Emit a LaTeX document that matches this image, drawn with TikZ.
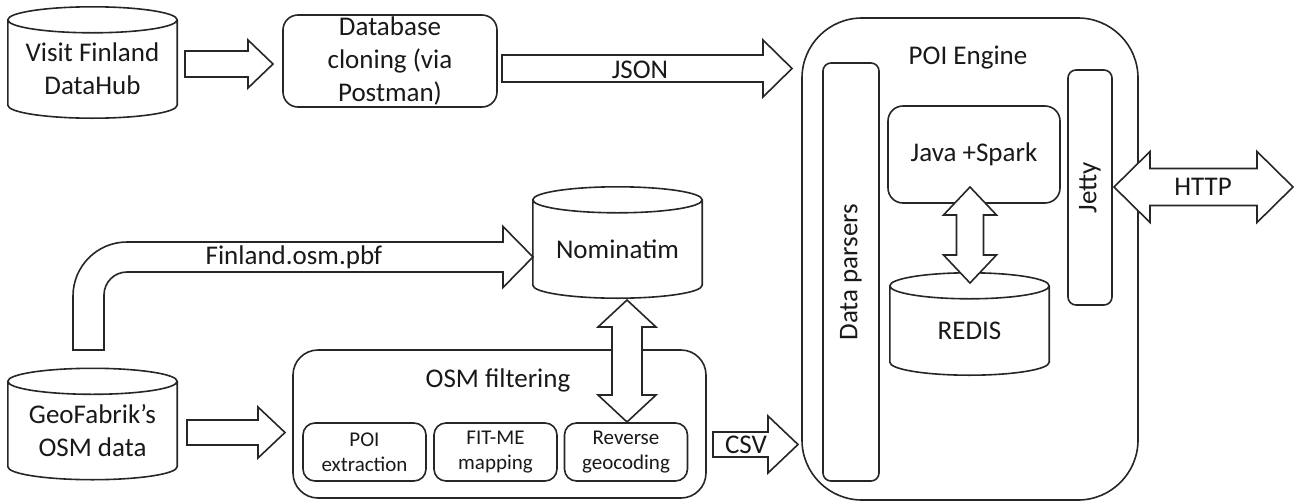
\documentclass[tikz,border=0pt]{standalone}
\usepackage{fontspec}
\setmainfont{Carlito}
\usepackage{tikz}
\usetikzlibrary{calc,positioning}

\newcommand{\lbltxt}{\fontsize{27}{33}\selectfont}
\newcommand{\subtxt}{\fontsize{21}{25}\selectfont}

\tikzset{
  base/.style={line width=1.6pt, draw=black!85},
  rbox/.style={base, rounded corners=15pt, inner sep=0pt, align=center, font=\lbltxt, text=black!90},
  sbox/.style={rbox, rounded corners=12pt, minimum width=123pt, minimum height=58pt, font=\subtxt},
  dbnode/.style={inner sep=0pt, minimum width=169pt, minimum height=72pt, align=center, font=\lbltxt, text=black!90},
  blk/.style={base, fill=white, line join=miter},
  lbl/.style={font=\lbltxt, text=black!90}
}

% cylinder drawn round a dbnode (node = body under the top ellipse)
\newcommand{\dbdraw}[1]{%
  \draw[base] let \p1=(#1.north west), \p2=(#1.south east), \n1={(\x2-\x1)/2} in
    (\x1,\y1+13) -- (\x1,\y2) arc[start angle=180, end angle=360, x radius=\n1, y radius=13pt] -- (\x2,\y1+13)
    (\x1+\n1,\y1+13) ellipse[x radius=\n1, y radius=13pt];}

% block arrow to the right: tail, tip, shaft half, head half, head length
\newcommand{\rarrow}[5]{%
  \draw[blk] let \p1=(#1), \p2=(#2) in
    (\x1,\y2+#3) -- (\x2-#5,\y2+#3) -- (\x2-#5,\y2+#4) -- (\x2,\y2)
    -- (\x2-#5,\y2-#4) -- (\x2-#5,\y2-#3) -- (\x1,\y2-#3) -- cycle;}

% vertical double block arrow: top tip, bottom tip, shaft half, head half, head length
\newcommand{\vdarrow}[5]{%
  \draw[blk] let \p1=(#1), \p2=(#2) in
    (\x1,\y1) -- (\x1+#4,\y1-#5) -- (\x1+#3,\y1-#5) -- (\x1+#3,\y2+#5) -- (\x1+#4,\y2+#5) -- (\x1,\y2)
    -- (\x1-#4,\y2+#5) -- (\x1-#3,\y2+#5) -- (\x1-#3,\y1-#5) -- (\x1-#4,\y1-#5) -- cycle;}

% horizontal double block arrow: left tip, right tip, shaft half, head half, head length
\newcommand{\hdarrow}[5]{%
  \draw[blk] let \p1=(#1), \p2=(#2) in
    (\x1,\y1) -- (\x1+#5,\y1+#4) -- (\x1+#5,\y1+#3) -- (\x2-#5,\y1+#3) -- (\x2-#5,\y1+#4) -- (\x2,\y1)
    -- (\x2-#5,\y1-#4) -- (\x2-#5,\y1-#3) -- (\x1+#5,\y1-#3) -- (\x1+#5,\y1-#4) -- cycle;}

\begin{document}
\begin{tikzpicture}[x=1pt, y=-1pt]
\useasboundingbox (0,0) rectangle (1294,501);

% Sources
\node[dbnode] (visit) at (92.5,69) {Visit Finland\\DataHub};
\node[dbnode] (geo) at (92.5,430.5) {GeoFabrik’s\\OSM data};
\node[dbnode] (nomi) at (617.5,249) {Nominatim};
\dbdraw{visit}
\dbdraw{geo}
\dbdraw{nomi}

\node[rbox, minimum width=214pt, minimum height=92pt] (clone) at (390,61) {Database\\cloning (via\\Postman)};

% OSM filtering
\node[rbox, rounded corners=25pt, minimum width=413pt, minimum height=148pt] (osmf) at (499.5,424) {};
\node[lbl] (osmftitle) at (498,380) {OSM filtering};
\node[sbox] (poiex) at (364.5,452) {POI\\extraction};
\node[sbox] (fitme) at (495.5,452) {FIT-ME\\mapping};
\node[sbox] (revgeo) at (626,452) {Reverse\\geocoding};

% POI Engine
\node[rbox, rounded corners=60pt, minimum width=336pt, minimum height=482pt] (engine) at (970,259) {};
\node[lbl] (enginetitle) at (968,58) {POI Engine};
\node[rbox, rotate=90, rounded corners=8pt, minimum width=418pt, minimum height=56pt] (parsers) at (851,272) {Data parsers};
\node[rbox, rotate=90, rounded corners=8pt, minimum width=235pt, minimum height=44pt] (jetty) at (1090,187.5) {Jetty};
\node[rbox, minimum width=172pt, minimum height=97pt] (java) at (974,154.5) {Java +Spark};
\node[dbnode, minimum width=159pt, minimum height=63pt] (redis) at (969.5,330.5) {REDIS};
\dbdraw{redis}

% Arrow ends
\coordinate (visitout) at (185,64);
\coordinate (clonein) at (273,64);
\coordinate (cloneout) at (502,68.5);
\coordinate (enginein) at (792,68.5);
\coordinate (geoout) at (187,432.5);
\coordinate (osmfin) at (285,432.5);
\coordinate (osmfout) at (713,444.5);
\coordinate (parsersin) at (798,444.5);
\coordinate (pbfout) at (88.5,350);
\coordinate (nomiin) at (533,257);
\coordinate (nomibot) at (627,300);
\coordinate (revgeotop) at (627,422);
\coordinate (javabot) at (970,187);
\coordinate (redistop) at (970,283);
\coordinate (jettyout) at (1114,187);
\coordinate (client) at (1293,187);

% Block arrows
\rarrow{visitout}{clonein}{13}{24}{25}
\rarrow{cloneout}{enginein}{13.5}{28.5}{29}
\rarrow{geoout}{osmfin}{12.5}{25.5}{27}
\rarrow{osmfout}{parsersin}{12.5}{28.5}{30}
\vdarrow{nomibot}{revgeotop}{15}{29}{27}
\vdarrow{javabot}{redistop}{13.5}{26.5}{28}
\hdarrow{jettyout}{client}{18.5}{35.5}{36}

% bent arrow GeoFabrik -> Nominatim
\draw[blk] let \p1=(pbfout), \p2=(nomiin) in
  (\x1-15.5,\y1) -- (\x1-15.5,\y2+15-54) arc[start angle=180, end angle=90, radius=54pt]
  -- (\x2-30,\y2+15) -- (\x2-30,\y2+30.5) -- (\x2,\y2) -- (\x2-30,\y2-30.5) -- (\x2-30,\y2-15)
  -- (\x1+15.5+23,\y2-15) arc[start angle=90, end angle=180, radius=23pt] -- (\x1+15.5,\y1) -- cycle;

% Arrow labels
\node[lbl] (json) at (640,70) {JSON};
\node[lbl] (pbf) at (294,257) {Finland.osm.pbf};
\node[lbl] (csv) at (746,444.5) {CSV};
\node[lbl] (http) at (1203,187) {HTTP};
\end{tikzpicture}
\end{document}
